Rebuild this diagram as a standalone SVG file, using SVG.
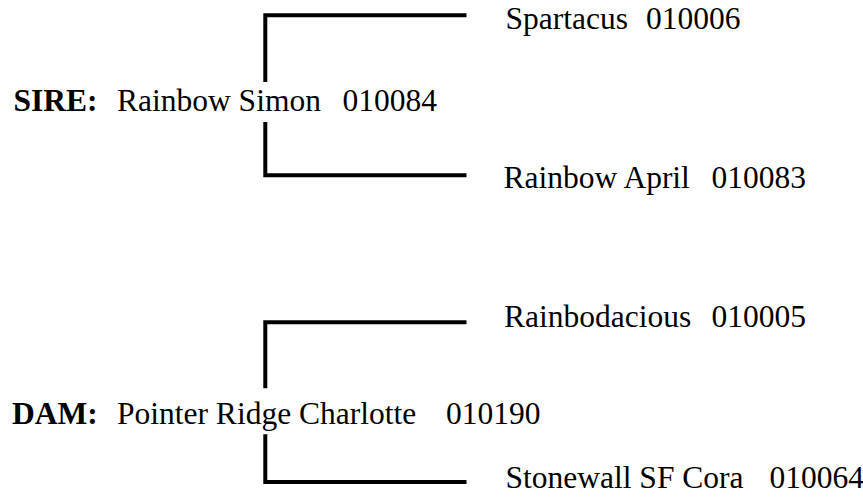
<svg xmlns="http://www.w3.org/2000/svg" width="863" height="503" viewBox="0 0 863 503">
<style>
.t{font-family:"Liberation Serif","Times New Roman",serif;font-size:31.5px;fill:#000}
.b{font-weight:bold}
.id{text-anchor:end}
.ln{fill:none;stroke:#000;stroke-width:4;stroke-linecap:butt;stroke-linejoin:miter}
</style>
<rect width="863" height="503" fill="#fff"/>
<g id="connectors">
<path class="ln" d="M466.5 15.3 H265.3 V82"/>
<path class="ln" d="M265.3 122 V175.3 H466.5"/>
<path class="ln" d="M466.5 322.3 H265.3 V388.3"/>
<path class="ln" d="M265.3 434.3 V482 H466.5"/>
</g>
<g id="sire">
<text class="t b" x="13.5" y="111">SIRE:</text>
<text class="t" x="117" y="111">Rainbow Simon</text>
<text class="t id" x="437" y="111">010084</text>
</g>
<g id="sire-sire">
<text class="t" x="505.5" y="29">Spartacus</text>
<text class="t id" x="740.5" y="29">010006</text>
</g>
<g id="sire-dam">
<text class="t" x="503.5" y="188.3">Rainbow April</text>
<text class="t id" x="806" y="188.3">010083</text>
</g>
<g id="dam">
<text class="t b" x="12" y="424.3">DAM:</text>
<text class="t" x="117" y="424.3">Pointer Ridge Charlotte</text>
<text class="t id" x="540.5" y="424.3">010190</text>
</g>
<g id="dam-sire">
<text class="t" x="504" y="326.7">Rainbodacious</text>
<text class="t id" x="806" y="326.7">010005</text>
</g>
<g id="dam-dam">
<text class="t" x="505.5" y="488.3">Stonewall SF Cora</text>
<text class="t id" x="864" y="488.3">010064</text>
</g>
</svg>
